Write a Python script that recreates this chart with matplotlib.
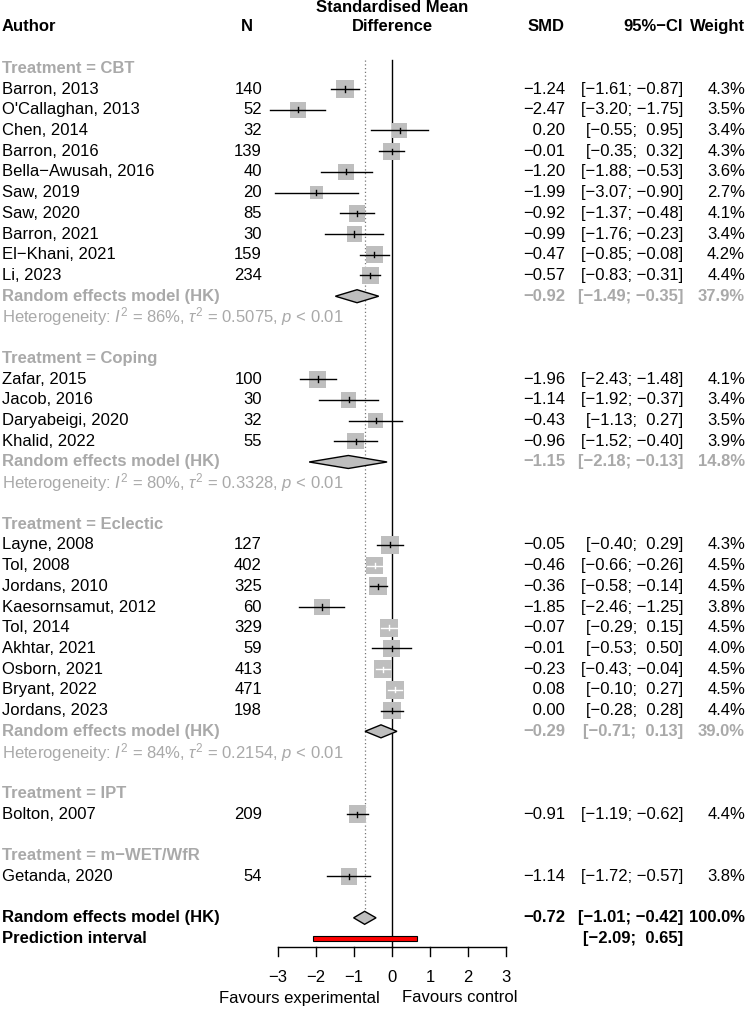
import matplotlib
matplotlib.use("Agg")
import numpy as np
import matplotlib.pyplot as plt
from matplotlib.patches import Rectangle, Polygon
from matplotlib.transforms import blended_transform_factory

plt.rcParams['font.family'] = ['Liberation Sans', 'DejaVu Sans']
plt.rcParams['mathtext.fontset'] = 'custom'
plt.rcParams['mathtext.rm'] = 'Liberation Sans'
plt.rcParams['mathtext.it'] = 'Liberation Sans:italic'
plt.rcParams['mathtext.bf'] = 'Liberation Sans:bold'

# ---- data ----
authors = ["Barron, 2013", "O'Callaghan, 2013", "Chen, 2014", "Barron, 2016",
           "Bella\u2212Awusah, 2016", "Saw, 2019", "Saw, 2020", "Barron, 2021",
           "El\u2212Khani, 2021", "Li, 2023",
           "Zafar, 2015", "Jacob, 2016", "Daryabeigi, 2020", "Khalid, 2022",
           "Layne, 2008", "Tol, 2008", "Jordans, 2010", "Kaesornsamut, 2012",
           "Tol, 2014", "Akhtar, 2021", "Osborn, 2021", "Bryant, 2022", "Jordans, 2023",
           "Bolton, 2007", "Getanda, 2020"]
treatment = ["CBT"] * 10 + ["Coping"] * 4 + ["Eclectic"] * 9 + ["IPT"] + ["m\u2212WET/WfR"]
n = [140, 52, 32, 139, 40, 20, 85, 30, 159, 234,
     100, 30, 32, 55,
     127, 402, 325, 60, 329, 59, 413, 471, 198,
     209, 54]
smd = [-1.24, -2.47, 0.20, -0.01, -1.20, -1.99, -0.92, -0.99, -0.47, -0.57,
       -1.96, -1.14, -0.43, -0.96,
       -0.05, -0.46, -0.36, -1.85, -0.07, -0.01, -0.23, 0.08, 0.00,
       -0.91, -1.14]
ci_lo = [-1.61, -3.20, -0.55, -0.35, -1.88, -3.07, -1.37, -1.76, -0.85, -0.83,
         -2.43, -1.92, -1.13, -1.52,
         -0.40, -0.66, -0.58, -2.46, -0.29, -0.53, -0.43, -0.10, -0.28,
         -1.19, -1.72]
ci_hi = [-0.87, -1.75, 0.95, 0.32, -0.53, -0.90, -0.48, -0.23, -0.08, -0.31,
         -1.48, -0.37, 0.27, -0.40,
         0.29, -0.26, -0.14, -1.25, 0.15, 0.50, -0.04, 0.27, 0.28,
         -0.62, -0.57]
weight = [4.3, 3.5, 3.4, 4.3, 3.6, 2.7, 4.1, 3.4, 4.2, 4.4,
          4.1, 3.4, 3.5, 3.9,
          4.3, 4.5, 4.5, 3.8, 4.5, 4.0, 4.5, 4.5, 4.4,
          4.4, 3.8]
# studies whose CI line sits inside the square (drawn white)
ci_inside = ["Tol, 2008", "Tol, 2014", "Osborn, 2021", "Bryant, 2022"]

sub_names = ["CBT", "Coping", "Eclectic"]
sub_smd = [-0.92, -1.15, -0.29]
sub_lo = [-1.49, -2.18, -0.71]
sub_hi = [-0.35, -0.13, 0.13]
sub_weight = [37.9, 14.8, 39.0]
sub_i2 = [86, 80, 84]
sub_tau2 = ["0.5075", "0.3328", "0.2154"]

overall = (-0.72, -1.01, -0.42)
pred = (-2.09, 0.65)
xticks = [-3, -2, -1, 0, 1, 2, 3]

# ---- layout ----
W, H = 750, 1009
x0px, xscale = 392, 38.0      # pixel of SMD=0, px per unit
row0, rowh = 68.3, 20.72      # pixel of first row, px per row
grey = "#a9a9a9"
box = "#bebebe"
fs = 12

fig = plt.figure(figsize=(W / 100, H / 100), dpi=100)
ax = fig.add_axes([0, 0, 1, 1])
ax.axis('off')
ax.set_xlim(-x0px / xscale, (W - x0px) / xscale)
ax.set_ylim((H - row0) / rowh, -row0 / rowh)
tr = blended_transform_factory(fig.transFigure, ax.transData)


def txt(px, row, s, ha='left', **kw):
    ax.text(px / W, row, s, transform=tr, ha=ha, va='center', fontsize=fs, **kw)


def num(v):
    return f"{v:.2f}".replace("-", "\u2212").rjust(5)


def ci(lo, hi):
    return "[" + num(lo) + "; " + num(hi) + "]"


def diamond(est, lo, hi, row):
    h = 6.5 / rowh
    ax.add_patch(Polygon([(lo, row), (est, row - h), (hi, row), (est, row + h)],
                         closed=True, fc=box, ec='black', lw=1.0, zorder=3))


# header
txt(2, -2, "Author", weight='bold')
txt(247, -2, "N", ha='center', weight='bold')
txt(392, -2.92, "Standardised Mean", ha='center', weight='bold')
txt(392, -2, "Difference", ha='center', weight='bold')
txt(565, -2, "SMD", ha='right', weight='bold')
txt(683, -2, "95%\u2212CI", ha='right', weight='bold')
txt(745, -2, "Weight", ha='right', weight='bold')

row = 0
groups = list(dict.fromkeys(treatment))
for g in groups:
    txt(2, row, "Treatment = " + g, color=grey, weight='bold')
    row += 1
    for i, t in enumerate(treatment):
        if t != g:
            continue
        side = 8.34 * np.sqrt(weight[i])
        ax.add_patch(Rectangle((smd[i] - side / 2 / xscale, row - side / 2 / rowh),
                               side / xscale, side / rowh, fc=box, ec='none', zorder=2))
        lc = 'white' if authors[i] in ci_inside else 'black'
        ax.plot([ci_lo[i], ci_hi[i]], [row, row], color=lc, lw=1.0, zorder=4)
        ax.plot([smd[i], smd[i]], [row - 2.6 / rowh, row + 2.6 / rowh], color=lc, lw=1.0, zorder=4)
        txt(2, row, authors[i])
        txt(262, row, str(n[i]), ha='right')
        txt(565, row, num(smd[i]), ha='right')
        txt(683, row, ci(ci_lo[i], ci_hi[i]), ha='right')
        txt(745, row, f"{weight[i]:.1f}%", ha='right')
        row += 1
    if g in sub_names:
        k = sub_names.index(g)
        diamond(sub_smd[k], sub_lo[k], sub_hi[k], row)
        txt(2, row, "Random effects model (HK)", color=grey, weight='bold')
        txt(565, row, num(sub_smd[k]), ha='right', color=grey, weight='bold')
        txt(683, row, ci(sub_lo[k], sub_hi[k]), ha='right', color=grey, weight='bold')
        txt(745, row, f"{sub_weight[k]:.1f}%", ha='right', color=grey, weight='bold')
        row += 1
        txt(2, row, r"Heterogeneity: $I^2$ = %d%%, $\tau^2$ = %s, $p$ < 0.01"
            % (sub_i2[k], sub_tau2[k]), color=grey)
        row += 1
    row += 1

# overall
row += 0
diamond(overall[0], overall[1], overall[2], row)
txt(2, row, "Random effects model (HK)", weight='bold')
txt(565, row, num(overall[0]), ha='right', weight='bold')
txt(683, row, ci(overall[1], overall[2]), ha='right', weight='bold')
txt(745, row, "100.0%", ha='right', weight='bold')
ov_row = row
row += 1
txt(2, row, "Prediction interval", weight='bold')
txt(683, row, ci(pred[0], pred[1]), ha='right', weight='bold')
ph = 5 / rowh
ax.add_patch(Rectangle((pred[0], row - ph / 2), pred[1] - pred[0], ph,
                       fc='red', ec='black', lw=0.8, zorder=3))

# reference lines
top = -0.4
axis_row = (947 - row0) / rowh
ax.plot([0, 0], [top, axis_row], color='black', lw=1.0, zorder=1)
ax.plot([overall[0], overall[0]], [top, ov_row - 6.5 / rowh], color='#777777',
        lw=0.9, linestyle=(0, (1, 2)), zorder=1)

# x axis
ax.plot([xticks[0], xticks[-1]], [axis_row, axis_row], color='black', lw=1.0)
for t in xticks:
    ax.plot([t, t], [axis_row, axis_row + 9 / rowh], color='black', lw=1.0)
    ax.text(t, (978 - row0) / rowh, str(t).replace("-", "\u2212"), ha='center', va='center', fontsize=fs)
txt(380, (998 - row0) / rowh, "Favours experimental", ha='right')
txt(402, (998 - row0) / rowh, "Favours control", ha='left')

fig.savefig("out.png", dpi=100)
